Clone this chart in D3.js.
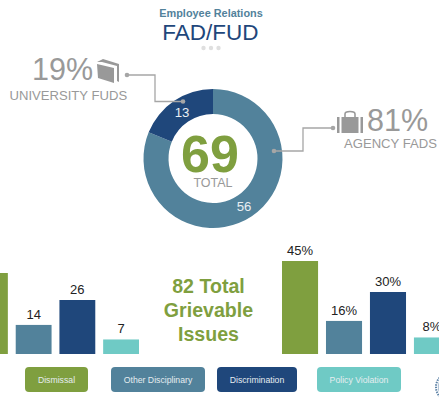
<!DOCTYPE html>
<html>
<head>
<meta charset="utf-8">
<script src="https://cdn.jsdelivr.net/npm/d3@7"></script>
<style>
  html, body { margin: 0; padding: 0; background: #fff; overflow: hidden; }
  svg { display: block; }
  text { font-family: "Liberation Sans", Arial, sans-serif; }
</style>
</head>
<body>
<svg id="chart" width="439" height="413"></svg>
<script>
const donutLabels = ["Agency FADs", "University FUDs"];
const donutValues = [56, 13];
const issueTypes = ["Dismissal", "Other Disciplinary", "Discrimination", "Policy Violation"];
const issueCounts = [39, 14, 26, 7];
const issuePercents = [45, 16, 30, 8];

const green = "#7f9f3f";
const teal = "#52829b";
const navy = "#1f477b";
const mint = "#6fcac5";
const gray = "#a6a6a6";
const textGray = "#999999";
const issueColors = [green, teal, navy, mint];

const svg = d3.select("svg#chart");

// title
svg.append("text").text("Employee Relations")
  .attr("x", 211).attr("y", 17).attr("text-anchor", "middle")
  .style("font-size", "10.9px").style("font-weight", "bold").attr("fill", teal);
svg.append("text").text("FAD/FUD")
  .attr("x", 210.5).attr("y", 40).attr("text-anchor", "middle")
  .style("font-size", "22.5px").attr("fill", navy);
svg.selectAll("circle.dot").data([203.5, 211, 218.5]).join("circle")
  .attr("class", "dot").attr("cx", d => d).attr("cy", 48).attr("r", 2.2).attr("fill", "#dfdfdf");

// donut
const donut = svg.append("g").attr("transform", "translate(213, 158.5)");
const pie = d3.pie().sort(null);
const arc = d3.arc().innerRadius(44.5).outerRadius(69.5);
const slices = pie(donutValues);
donut.selectAll("path").data(slices).join("path")
  .attr("d", arc).attr("fill", (d, i) => [teal, navy][i]);
donut.selectAll("text.val").data(slices).join("text")
  .attr("class", "val")
  .attr("x", (d, i) => [31, -31][i])
  .attr("y", (d, i) => [52, -42][i])
  .attr("text-anchor", "middle")
  .style("font-size", "13.2px").attr("fill", "#e8eef2")
  .text(d => d.value);
donut.append("text").text(d3.sum(donutValues))
  .attr("x", -3).attr("y", 13.5).attr("text-anchor", "middle")
  .style("font-size", "52px").style("font-weight", "bold").attr("fill", green);
donut.append("text").text("TOTAL")
  .attr("x", 0).attr("y", 28.5).attr("text-anchor", "middle")
  .style("font-size", "12.5px").attr("fill", textGray);

// leader lines
const leader = d3.line();
[
  [[127, 75], [155, 75], [155, 101.5], [183, 101.5]],
  [[274, 151], [303, 151], [303, 128], [333, 128]]
].forEach(pts => {
  svg.append("path").attr("d", leader(pts)).attr("fill", "none")
    .attr("stroke", gray).attr("stroke-width", 1.3);
  [pts[0], pts[3]].forEach(p => {
    svg.append("circle").attr("cx", p[0]).attr("cy", p[1]).attr("r", 2.3).attr("fill", gray);
  });
});

// callouts
svg.append("text").text("19%").attr("x", 32).attr("y", 80)
  .style("font-size", "30.5px").attr("fill", textGray);
svg.append("text").text("UNIVERSITY FUDS").attr("x", 9.5).attr("y", 100)
  .style("font-size", "13.1px").attr("fill", textGray);
svg.append("text").text("81%").attr("x", 367).attr("y", 131)
  .style("font-size", "30.5px").attr("fill", textGray);
svg.append("text").text("AGENCY FADS").attr("x", 344).attr("y", 148)
  .style("font-size", "13.1px").attr("fill", textGray);

// book icon
svg.append("path").attr("fill", textGray)
  .attr("d", "M97 62 L103 59 L119 64 L119 82 L117 81 L117 66 L102 62 Z M97 64 L114 68 L114 83 L98 78 Z");
// briefcase icon
svg.append("g").call(g => {
  g.append("path").attr("fill", textGray)
    .attr("d", "M337 117 H339.5 V133 H337 Z M341.5 117 H358.5 V133 H341.5 Z M360.5 117 H363 V133 H360.5 Z");
  g.append("path").attr("d", "M345 117 V114 Q345 111.5 350 111.5 Q355 111.5 355 114 V117")
    .attr("fill", "none").attr("stroke", textGray).attr("stroke-width", 1.6);
});

// bars
const baseY = 354;
const yPercent = d3.scaleLinear().domain([0, 45]).range([baseY, 261]);
const yCount = d3.scaleLinear().domain([0, 39]).range([baseY, 273]);
const xLeft = d3.scaleBand().domain(issueTypes).range([-28, 139]).paddingInner(0.18).paddingOuter(0);
const xRight = d3.scaleBand().domain(issueTypes).range([282, 450]).paddingInner(0.18).paddingOuter(0);

function drawBars(x, yScale, values, fmt) {
  const g = svg.append("g");
  g.selectAll("rect").data(values).join("rect")
    .attr("x", (d, i) => x(issueTypes[i]))
    .attr("y", d => yScale(d))
    .attr("width", x.bandwidth())
    .attr("height", d => baseY - yScale(d))
    .attr("fill", (d, i) => issueColors[i]);
  // labels whose bar centre is off the page are not drawn
  const labelled = values.map((v, i) => ({ v, i })).filter(d => x(issueTypes[d.i]) + x.bandwidth() / 2 > 0);
  g.selectAll("text").data(labelled).join("text")
    .attr("x", d => x(issueTypes[d.i]) + x.bandwidth() / 2)
    .attr("y", d => yScale(d.v) - 6)
    .attr("text-anchor", "middle")
    .style("font-size", "13px").attr("fill", "#222222")
    .text(d => fmt(d.v));
}
drawBars(xLeft, yCount, issueCounts, d => d);
drawBars(xRight, yPercent, issuePercents, d => d + "%");

// center text
const centerLines = ["82 Total", "Grievable", "Issues"];
svg.selectAll("text.center").data(centerLines).join("text")
  .attr("class", "center")
  .attr("x", 208.5)
  .attr("y", (d, i) => 293 + i * 24)
  .attr("text-anchor", "middle")
  .style("font-size", "19.6px").style("font-weight", "bold").attr("fill", green)
  .text(d => d);

// legend
const legendX = [25, 111, 217, 317];
const legendW = [63, 94, 80, 84];
const legend = svg.append("g");
issueTypes.forEach((name, i) => {
  legend.append("rect")
    .attr("x", legendX[i]).attr("y", 367)
    .attr("width", legendW[i]).attr("height", 25).attr("rx", 4)
    .attr("fill", issueColors[i]);
  legend.append("text").text(name)
    .attr("x", legendX[i] + legendW[i] / 2).attr("y", 383)
    .attr("text-anchor", "middle")
    .style("font-size", "8.7px").attr("fill", "#e6edf0");
});

// seal, cut off by the page edge
const seal = svg.append("g").attr("transform", "translate(450, 387)");
seal.append("circle").attr("r", 14).attr("fill", "none").attr("stroke", "#5f84a8")
  .attr("stroke-width", 2).attr("stroke-dasharray", "1.5 1");
seal.append("circle").attr("r", 11.5).attr("fill", "none").attr("stroke", "#b5c7d8").attr("stroke-width", 1.5);
</script>
</body>
</html>
